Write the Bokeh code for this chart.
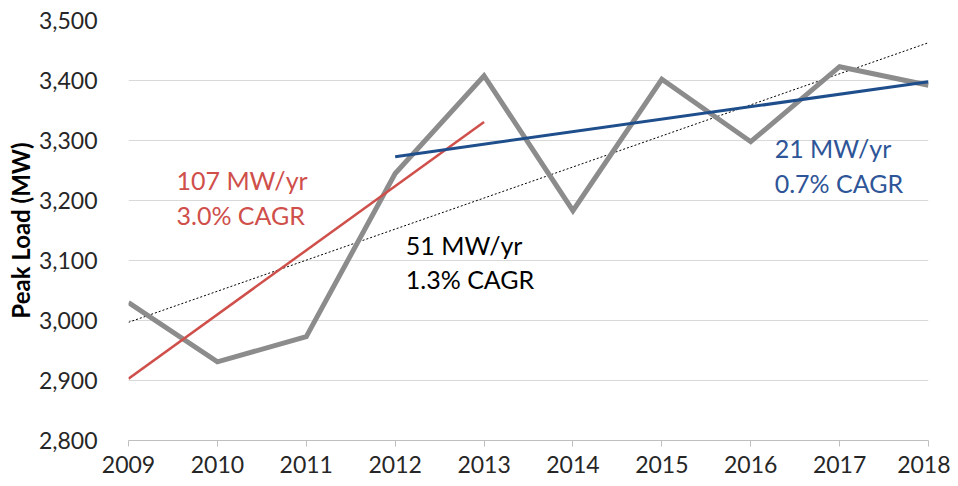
from bokeh.plotting import figure
from bokeh.models import Range1d, FixedTicker, NumeralTickFormatter, Label
from bokeh.embed import file_html
from bokeh.resources import INLINE

years = [2009, 2010, 2011, 2012, 2013, 2014, 2015, 2016, 2017, 2018]
peak_load = [3030, 2931, 2973, 3245, 3408, 3183, 3402, 3298, 3423, 3392]

red_years = [2009, 2013]
red_trend = [2903, 3331]
blue_years = [2012, 2018]
blue_trend = [3273, 3398]
all_years = [2009, 2018]
all_trend = [2997, 3463]

y_ticks = [2800, 2900, 3000, 3100, 3200, 3300, 3400, 3500]

FONT = "Lato"

p = figure(width=950, height=484, output_backend="svg", toolbar_location=None,
           x_range=Range1d(2009, 2018), y_range=Range1d(2800, 3500),
           min_border_left=128, min_border_right=22, min_border_top=20, min_border_bottom=44)
p.outline_line_color = None
p.background_fill_color = "white"

p.xgrid.grid_line_color = None
p.ygrid.grid_line_color = "#d9d9d9"
p.ygrid.grid_line_width = 1

p.xaxis.ticker = FixedTicker(ticks=years)
p.xaxis.axis_line_color = "#bfbfbf"
p.xaxis.major_tick_line_color = "#bfbfbf"
p.xaxis.major_tick_out = 6
p.xaxis.major_tick_in = 0
p.xaxis.minor_tick_line_color = None
p.xaxis.major_label_text_font = FONT
p.xaxis.major_label_text_font_size = "23px"
p.xaxis.major_label_text_color = "#262626"
p.xaxis.major_label_standoff = 9

p.yaxis.ticker = FixedTicker(ticks=y_ticks)
p.yaxis.formatter = NumeralTickFormatter(format="0,0")
p.yaxis.axis_line_color = None
p.yaxis.major_tick_line_color = None
p.yaxis.minor_tick_line_color = None
p.yaxis.major_label_text_font = FONT
p.yaxis.major_label_text_font_size = "23px"
p.yaxis.major_label_text_color = "#262626"
p.yaxis.major_label_standoff = 25
p.yaxis.axis_label = "Peak Load (MW)"
p.yaxis.axis_label_text_font = FONT
p.yaxis.axis_label_text_font_size = "24px"
p.yaxis.axis_label_text_font_style = "bold"
p.yaxis.axis_label_text_color = "#000000"
p.yaxis.axis_label_standoff = 1

p.line(all_years, all_trend, line_color="#000000", line_width=1, line_dash="2 2")
p.line(years, peak_load, line_color="#8c8c8c", line_width=5, line_join="miter")
p.line(red_years, red_trend, line_color="#cf4f4b", line_width=2.5)
p.line(blue_years, blue_trend, line_color="#1f4e8c", line_width=3)

def add_label(x, y, txt, color):
    p.add_layout(Label(x=x, y=y, text=txt, text_color=color, text_font=FONT,
                       text_font_size="25px", text_baseline="middle", text_align="left"))

add_label(2009.54, 3234, "107 MW/yr", "#cf4f4b")
add_label(2009.54, 3176, "3.0% CAGR", "#cf4f4b")
add_label(2012.12, 3126, "51 MW/yr", "#000000")
add_label(2012.12, 3069, "1.3% CAGR", "#000000")
add_label(2016.27, 3287, "21 MW/yr", "#2e5597")
add_label(2016.27, 3229, "0.7% CAGR", "#2e5597")

open("out.html", "w").write(file_html(p, INLINE))
